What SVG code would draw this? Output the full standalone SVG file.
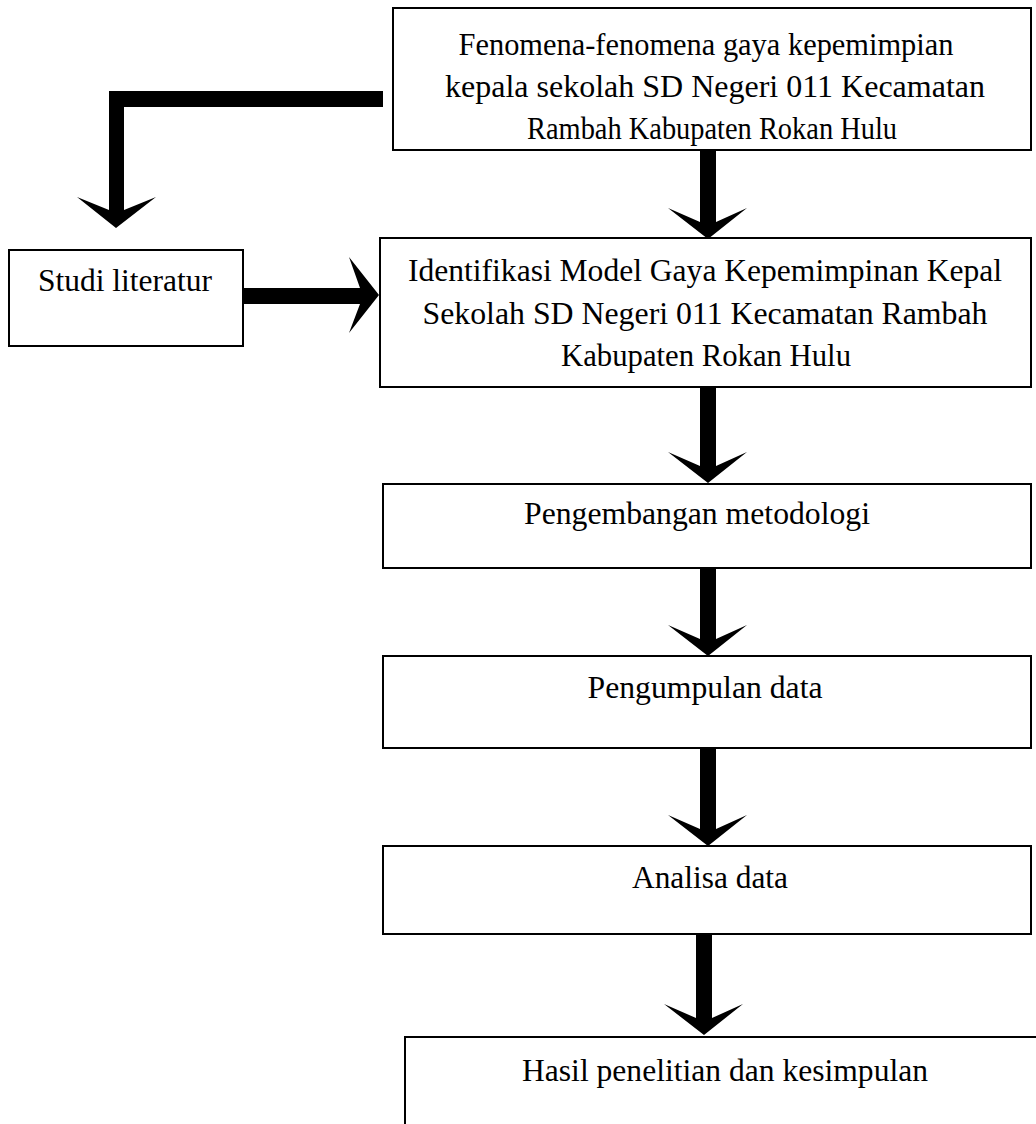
<svg xmlns="http://www.w3.org/2000/svg" width="1036" height="1124" viewBox="0 0 1036 1124">
<style>
.box{fill:#fff;stroke:#000;stroke-width:2}
.t{font-family:"Liberation Serif","Times New Roman",serif;font-size:32px;fill:#000;text-anchor:middle}
.arr{fill:#000;stroke:none}
</style>
<rect width="1036" height="1124" fill="#fff"/>
<g id="connectors">
<path class="arr" d="M383,91 L109,91 L109,210 L77,197 L116,228 L156,197 L124,210 L124,107 L383,107 Z"/>
<path class="arr" d="M243,288 L360,288 L349,257 L379,295 L349,333 L360,304 L243,304 Z"/>
<path class="arr" d="M700,150 L716,150 L716,222 L747,208 L708,239 L668,208 L700,222 Z"/>
<path class="arr" d="M700,387 L716,387 L716,466 L747,452 L708,483 L668,452 L700,466 Z"/>
<path class="arr" d="M700,568 L716,568 L716,639 L747,625 L708,656 L668,625 L700,639 Z"/>
<path class="arr" d="M700,748 L716,748 L716,829 L747,815 L708,846 L668,815 L700,829 Z"/>
<path class="arr" d="M696,934 L712,934 L712,1018 L743,1004 L704,1035 L664,1004 L696,1018 Z"/>
</g>
<g id="n1">
<rect class="box" x="393" y="8" width="638" height="142"/>
<text class="t" x="706" y="55" textLength="495" lengthAdjust="spacingAndGlyphs">Fenomena-fenomena gaya kepemimpian</text>
<text class="t" x="715" y="97" textLength="540" lengthAdjust="spacingAndGlyphs">kepala sekolah SD Negeri 011 Kecamatan</text>
<text class="t" x="712" y="139" textLength="370" lengthAdjust="spacingAndGlyphs">Rambah Kabupaten Rokan Hulu</text>
</g>
<g id="n2">
<rect class="box" x="9" y="250" width="234" height="96"/>
<text class="t" x="125" y="291" textLength="174" lengthAdjust="spacingAndGlyphs">Studi literatur</text>
</g>
<g id="n3">
<rect class="box" x="380" y="238" width="651" height="149"/>
<text class="t" x="705" y="281" textLength="594" lengthAdjust="spacingAndGlyphs">Identifikasi Model Gaya Kepemimpinan Kepal</text>
<text class="t" x="705" y="324" textLength="565" lengthAdjust="spacingAndGlyphs">Sekolah SD Negeri 011 Kecamatan Rambah</text>
<text class="t" x="706" y="366" textLength="290" lengthAdjust="spacingAndGlyphs">Kabupaten Rokan Hulu</text>
</g>
<g id="n4">
<rect class="box" x="383" y="484" width="648" height="84"/>
<text class="t" x="697" y="524" textLength="346" lengthAdjust="spacingAndGlyphs">Pengembangan metodologi</text>
</g>
<g id="n5">
<rect class="box" x="383" y="656" width="648" height="92"/>
<text class="t" x="705" y="698" textLength="235" lengthAdjust="spacingAndGlyphs">Pengumpulan data</text>
</g>
<g id="n6">
<rect class="box" x="383" y="846" width="648" height="88"/>
<text class="t" x="710" y="888" textLength="156" lengthAdjust="spacingAndGlyphs">Analisa data</text>
</g>
<g id="n7">
<rect class="box" x="405" y="1037" width="660" height="120"/>
<text class="t" x="725" y="1081" textLength="406" lengthAdjust="spacingAndGlyphs">Hasil penelitian dan kesimpulan</text>
</g>
</svg>
